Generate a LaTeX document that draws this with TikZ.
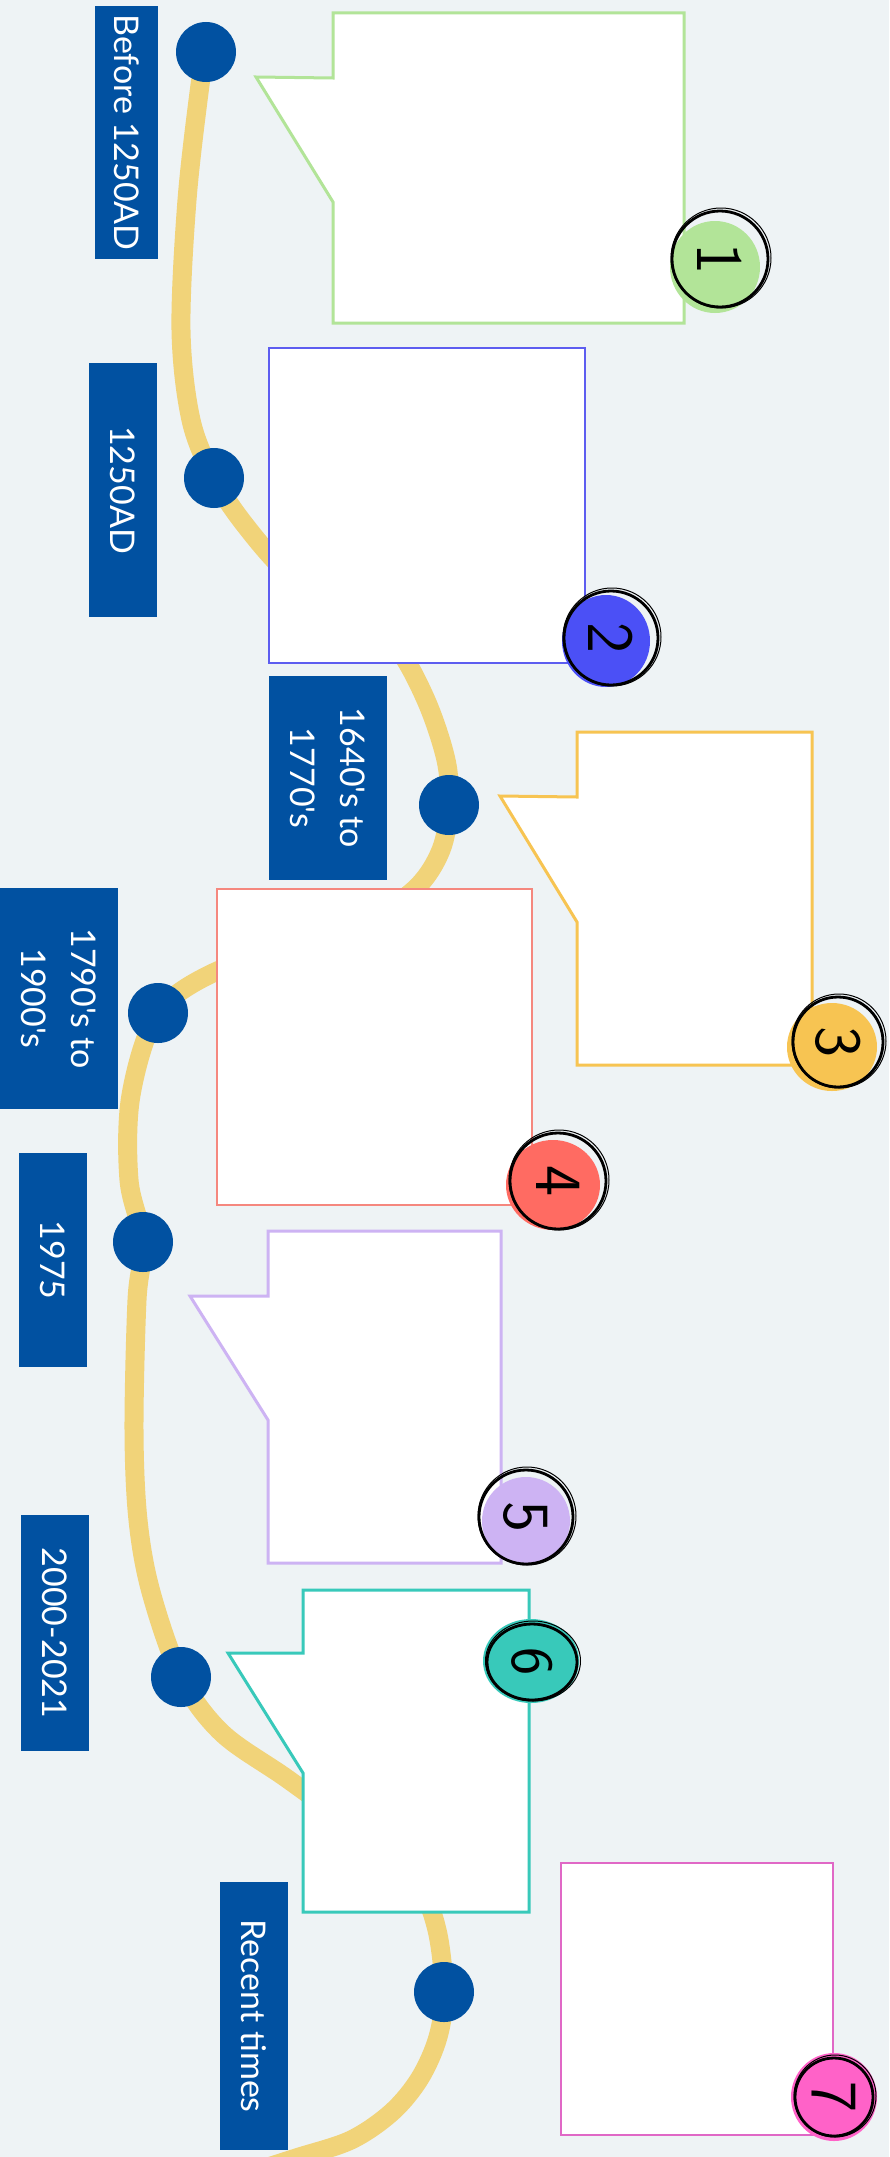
\documentclass[tikz,border=0pt]{standalone}
\usepackage{fontspec}
\usetikzlibrary{shapes.geometric}
\newfontfamily\lblfont{Lato}
\definecolor{bg}{HTML}{EEF3F5}
\definecolor{road}{HTML}{F1D379}
\definecolor{navy}{HTML}{0151A1}
\definecolor{cgreen}{HTML}{B2E498}
\definecolor{cblue}{HTML}{5D5DF0}
\definecolor{fblue}{HTML}{4B50F6}
\definecolor{corange}{HTML}{F7C452}
\definecolor{cred}{HTML}{F5877E}
\definecolor{fred}{HTML}{FF6B62}
\definecolor{cpurple}{HTML}{CDB3F3}
\definecolor{cteal}{HTML}{38C9BA}
\definecolor{cpink}{HTML}{E068C6}
\definecolor{fpink}{HTML}{FF62C8}
\tikzset{
  roadline/.style={draw=road, line width=19pt, line cap=round, line join=round},
  tdot/.style={circle, fill=navy, minimum size=60pt, inner sep=0pt},
  lbl/.style={fill=navy, text=white, font=\lblfont\fontsize{34}{50}\selectfont, rotate=-90, inner sep=0pt, align=center},
  card/.style={fill=white, draw=#1},
  badgefill/.style={ellipse, fill=#1, inner sep=0pt},
  ring/.style={circle, draw=black, line width=2.8pt, inner sep=0pt, minimum size=#1, font=\sffamily\fontsize{66}{66}\selectfont},
  ringb/.style={circle, draw=black, line width=1pt, inner sep=0pt, minimum size=#1},
  ovalring/.style={ellipse, draw=black, line width=2.8pt, inner sep=0pt, font=\sffamily\fontsize{60}{60}\selectfont},
  ovalringb/.style={ellipse, draw=black, line width=1pt, inner sep=0pt},
}
\begin{document}
\begin{tikzpicture}[x=1pt,y=-1pt]
\useasboundingbox (0,0) rectangle (889,2157);
\fill[bg] (0,0) rectangle (889,2157);

% timeline dot positions
\coordinate (t1) at (206,52);
\coordinate (t2) at (214,478);
\coordinate (t3) at (449,805);
\coordinate (t4) at (158,1013);
\coordinate (t5) at (143,1242);
\coordinate (t6) at (181,1677);
\coordinate (t7) at (444,1992);

% road
\begin{scope}
\clip (0,0) rectangle (889,2157);
\draw[roadline] plot[smooth, tension=0.55] coordinates {
 (t1) (200,85) (187,200) (181,330) (191,420) (t2) (245,525) (290,575) (350,612) (395,645) (426,700) (446,760)
 (t3) (441,850) (415,889) (360,925) (280,955) (215,972) (t4) (131,1095) (129,1180)
 (t5) (137,1300) (134,1430) (138,1520) (151,1592) (t6) (222,1733) (289,1780) (370,1840) (418,1885) (437,1930)
 (t7) (438,2037) (420,2078) (392,2112) (351,2140) (296,2158) (240,2176)};
\end{scope}

% cards
\draw[card=cgreen, line width=3pt] (333,13) -- (684,13) -- (684,323) -- (333,323) -- (333,202) -- (256,77) -- (333,78) -- cycle;
\node[draw=cblue, fill=white, line width=2pt, inner sep=0pt, minimum width=316pt, minimum height=315pt] (c2) at (427,505.5) {};
\draw[card=corange, line width=3pt] (577,732) -- (812,732) -- (812,1065) -- (577,1065) -- (577,922) -- (500,796) -- (577,797) -- cycle;
\node[draw=cred, fill=white, line width=1.6pt, inner sep=0pt, minimum width=315pt, minimum height=316pt] (c4) at (374.5,1047) {};
\draw[card=cpurple, line width=3pt] (268,1231) -- (501,1231) -- (501,1563) -- (268,1563) -- (268,1420) -- (190,1296) -- (268,1296) -- cycle;
\draw[card=cteal, line width=3pt] (303,1590) -- (529,1590) -- (529,1912) -- (303,1912) -- (303,1773) -- (228,1653) -- (303,1653) -- cycle;
\node[draw=cpink, fill=white, line width=1.6pt, inner sep=0pt, minimum width=272pt, minimum height=272pt] (c7) at (697,1999) {};

% dots
\foreach \i in {1,...,7} \node[tdot] (d\i) at (t\i) {};

% labels
\node[lbl, minimum width=253pt, minimum height=63pt] (l1) at (126.5,132.5) {Before 1250AD};
\node[lbl, minimum width=254pt, minimum height=68pt] (l2) at (123,490) {1250AD};
\node[lbl, minimum width=204pt, minimum height=118pt] (l3) at (328,778) {1640's to\\1770's};
\node[lbl, minimum width=221pt, minimum height=118pt] (l4) at (59,998.5) {1790's to\\1900's};
\node[lbl, minimum width=214pt, minimum height=68pt] (l5) at (53,1260) {1975};
\node[lbl, minimum width=236pt, minimum height=68pt] (l6) at (55,1633) {2000-2021};
\node[lbl, minimum width=268pt, minimum height=68pt] (l7) at (254,2016) {Recent times};

% badges
\node[badgefill=cgreen, minimum width=90pt, minimum height=92pt] (f1) at (715,267) {};
\node[ringb=100pt] at (721,258) {};
\node[ring=96pt, rotate=-90] (b1) at (720,259) {1};
\node[badgefill=fblue, minimum width=88pt, minimum height=92pt] (f2) at (606,641) {};
\node[ringb=98pt] at (612,637) {};
\node[ring=94pt, rotate=-90] (b2) at (611,638) {2};
\node[badgefill=corange, minimum width=90pt, minimum height=88pt] (f3) at (832,1047) {};
\node[ringb=94pt] at (839,1041) {};
\node[ring=90pt, rotate=-90] (b3) at (838,1042) {3};
\node[badgefill=fred, minimum width=94pt, minimum height=90pt] (f4) at (553,1185) {};
\node[ringb=100pt] at (559,1180) {};
\node[ring=96pt, rotate=-90] (b4) at (558,1181) {4};
\node[badgefill=cpurple, minimum width=88pt, minimum height=88pt] (f5) at (526,1521) {};
\node[ringb=98pt] at (527,1516) {};
\node[ring=94pt, rotate=-90] (b5) at (526,1517) {5};
\node[badgefill=cteal, minimum width=96pt, minimum height=84pt] (f6) at (531,1661) {};
\node[ovalringb, rotate=-90, minimum width=80pt, minimum height=95pt] at (533,1661) {};
\node[ovalring, rotate=-90, minimum width=76pt, minimum height=90pt] (b6) at (532,1662) {6};
\node[badgefill=fpink, minimum width=86pt, minimum height=88pt] (f7) at (834,2097) {};
\node[ringb=82pt] at (835,2096) {};
\node[ring=78pt, rotate=-90] (b7) at (834,2097) {7};
\end{tikzpicture}
\end{document}
